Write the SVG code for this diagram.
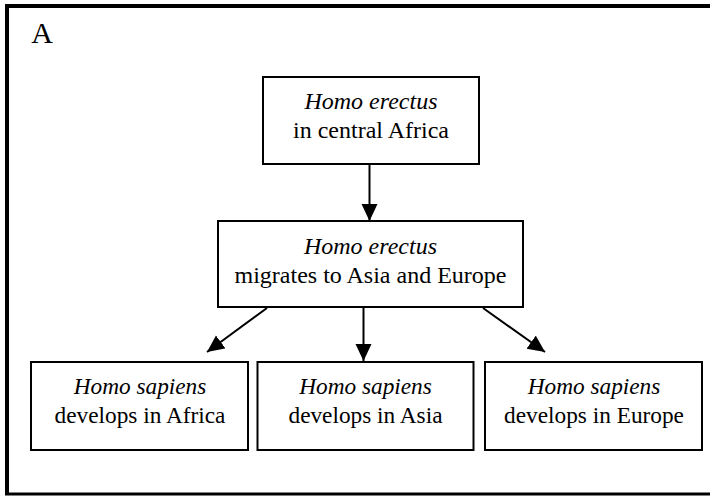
<svg xmlns="http://www.w3.org/2000/svg" width="710" height="496" viewBox="0 0 710 496">
  <style>
    .box { fill: #ffffff; stroke: #000000; stroke-width: 2; }
    .lbl { font-family: "Liberation Serif", "Times New Roman", serif; fill: #000000; text-anchor: middle; }
    .big { font-size: 24px; }
    .small { font-size: 23.3px; }
    .sp { font-style: italic; }
    .edge { fill: none; stroke: #000000; stroke-width: 2; }
    .frame { fill: none; stroke: #000000; }
  </style>
  <defs>
    <marker id="arrow" markerUnits="userSpaceOnUse" markerWidth="18" markerHeight="17" refX="17" refY="8" orient="auto">
      <path d="M0,0 L17,8 L0,16 Z" fill="#000000"/>
    </marker>
  </defs>

  <rect width="710" height="496" fill="#ffffff"/>

  <!-- panel frame, open to the right -->
  <g id="frame">
    <line class="frame" x1="5" y1="6" x2="712" y2="6" stroke-width="4"/>
    <line class="frame" x1="7" y1="4" x2="7" y2="495" stroke-width="4"/>
    <line class="frame" x1="5" y1="494" x2="712" y2="494" stroke-width="3"/>
    <text class="lbl" x="42" y="43" font-size="30" text-anchor="middle">A</text>
  </g>

  <g id="connectors">
    <path class="edge" d="M369.5,164 L369.5,221" marker-end="url(#arrow)"/>
    <path class="edge" d="M267,308 L207,352" marker-end="url(#arrow)"/>
    <path class="edge" d="M363.5,308 L363.5,361" marker-end="url(#arrow)"/>
    <path class="edge" d="M483,308 L545,352" marker-end="url(#arrow)"/>
  </g>

  <g id="erectus-africa">
    <rect class="box" x="263" y="77" width="216" height="87"/>
    <text class="lbl big sp" x="371" y="109">Homo erectus</text>
    <text class="lbl big" x="371" y="138">in central Africa</text>
  </g>

  <g id="erectus-migrates">
    <rect class="box" x="218" y="221" width="305" height="86"/>
    <text class="lbl big sp" x="370.5" y="254">Homo erectus</text>
    <text class="lbl big" x="370.5" y="283">migrates to Asia and Europe</text>
  </g>

  <g id="sapiens-africa">
    <rect class="box" x="31" y="362" width="217" height="88"/>
    <text class="lbl small sp" x="140" y="394">Homo sapiens</text>
    <text class="lbl small" x="140" y="422.5">develops in Africa</text>
  </g>

  <g id="sapiens-asia">
    <rect class="box" x="257.5" y="362" width="216" height="88"/>
    <text class="lbl small sp" x="365.5" y="394">Homo sapiens</text>
    <text class="lbl small" x="365.5" y="422.5">develops in Asia</text>
  </g>

  <g id="sapiens-europe">
    <rect class="box" x="485" y="362" width="217" height="88"/>
    <text class="lbl small sp" x="594" y="394">Homo sapiens</text>
    <text class="lbl small" x="594" y="422.5">develops in Europe</text>
  </g>
</svg>
